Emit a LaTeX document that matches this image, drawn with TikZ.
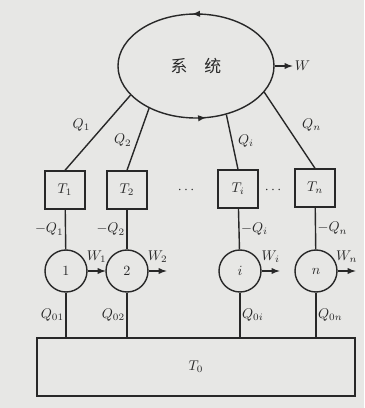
\documentclass[tikz,border=0pt]{standalone}
\usepackage{fontspec}
\newfontfamily\cjk{Noto Sans CJK SC}
\usetikzlibrary{shapes.geometric,decorations.markings}
\definecolor{paper}{RGB}{231,231,229}
\definecolor{ink}{RGB}{40,40,40}

\begin{document}
\begin{tikzpicture}[x=0.25mm,y=-0.25mm,line width=1pt,color=ink,
    tbox/.style={draw,minimum width=10mm,minimum height=9.5mm,inner sep=0pt},
    engine/.style={draw,circle,minimum size=10.5mm,inner sep=0pt},
    lbl/.style={inner sep=1pt}]
     \path[use as bounding box,fill=paper] (0,0) rectangle (364,408);
     % the system
     \node[draw,ellipse,minimum width=39mm,minimum height=26mm,inner sep=0pt,
       postaction={decorate,decoration={markings,
         mark=at position 0.26 with {\arrow[scale=1.3]{latex}},
         mark=at position 0.775 with {\arrow[scale=1.3]{latex}}}}]
       (sys) at (196,66) {\cjk\large 系\hspace{1em}统};
     \draw[-latex] (sys.east) -- ++(18,0) node[right,lbl]{$W$};
     % reservoirs
     \node[tbox] (t1) at (65,190)  {$T_1$};
     \node[tbox] (t2) at (127,190) {$T_2$};
     \node[tbox] (ti) at (238,189) {$T_i$};
     \node[tbox] (tn) at (315,188) {$T_n$};
     \node (dots1) at (186,190) {$\cdots$};
     \node (dots2) at (273,190) {$\cdots$};
     \draw (t1.north) -- node[pos=0.6,left=3mm,lbl]{$Q_1$} (sys.204);
     \draw (t2.north) -- node[pos=0.48,left=1mm,lbl]{$Q_2$} (sys.222);
     \draw (ti.north) -- node[pos=0.52,right=1mm,lbl]{$Q_i$} (sys.302);
     \draw (tn.north) -- node[pos=0.57,right=3.5mm,lbl]{$Q_n$} (sys.339);
     % engines
     \node[engine] (c1) at (66,271)  {$1$};
     \node[engine] (c2) at (127,271) {$2$};
     \node[engine] (ci) at (240,271) {$i$};
     \node[engine] (cn) at (316,271) {$n$};
     \draw (t1) -- node[left,lbl]{$-Q_1$} (c1);
     \draw (t2) -- node[left,lbl]{$-Q_2$} (c2);
     \draw (ti) -- node[right,lbl]{$-Q_i$} (ci);
     \draw (tn) -- node[right,lbl]{$-Q_n$} (cn);
     \draw[-latex] (c1.east) -- ++(18,0) node[midway,above=1.5mm,lbl]{$W_1$};
     \draw[-latex] (c2.east) -- ++(18,0) node[midway,above=1.5mm,lbl]{$W_2$};
     \draw[-latex] (ci.east) -- ++(18,0) node[midway,above=1.5mm,lbl]{$W_i$};
     \draw[-latex] (cn.east) -- ++(18,0) node[midway,above=1.5mm,lbl]{$W_n$};
     % common reservoir
     \node[draw,minimum width=79.5mm,minimum height=14.5mm,inner sep=0pt]
       (t0) at (196,367) {$T_0$};
     \draw (c1) -- node[left,lbl]{$Q_{01}$} (c1 |- t0.north);
     \draw (c2) -- node[left,lbl]{$Q_{02}$} (c2 |- t0.north);
     \draw (ci) -- node[right,lbl]{$Q_{0i}$} (ci |- t0.north);
     \draw (cn) -- node[right,lbl]{$Q_{0n}$} (cn |- t0.north);
    \end{tikzpicture}
\end{document}
